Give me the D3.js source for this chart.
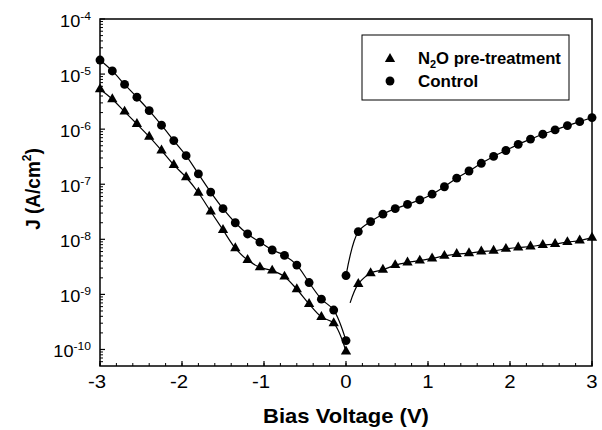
<!DOCTYPE html>
<html>
<head>
<meta charset="utf-8">
<script src="https://cdn.jsdelivr.net/npm/d3@7"></script>
<style>
body{margin:0;background:#fff;}
text{font-family:"Liberation Sans",Arial,sans-serif;fill:#000;}
</style>
</head>
<body>
<div id="chart"></div>
<script>
// bias voltage steps (V)
var negV=[-3,-2.85,-2.7,-2.55,-2.4,-2.25,-2.1,-1.95,-1.8,-1.65,-1.5,-1.35,-1.2,-1.05,-0.9,-0.75,-0.6,-0.45,-0.3,-0.15,0]
var posV=[0,0.15,0.3,0.45,0.6,0.75,0.9,1.05,1.2,1.35,1.5,1.65,1.8,1.95,2.1,2.25,2.4,2.55,2.7,2.85,3]

// Control (circles), J in A/cm2
var controlNeg=[1.8e-5,1.14e-5,6.5e-6,3.8e-6,2.17e-6,1.18e-6,6.2e-7,3.3e-7,1.54e-7,7.2e-8,3.6e-8,2.0e-8,1.25e-8,8.9e-9,6.4e-9,5.1e-9,3.4e-9,1.64e-9,8.2e-10,5.2e-10,1.45e-10]
var controlPos=[2.2e-9,1.38e-8,2.1e-8,2.86e-8,3.6e-8,4.3e-8,5.2e-8,6.6e-8,9.0e-8,1.29e-7,1.74e-7,2.4e-7,3.2e-7,4.1e-7,5.3e-7,6.6e-7,8.1e-7,9.7e-7,1.16e-6,1.37e-6,1.62e-6]

// N2O pre-treatment (triangles)
var n2oNeg=[5.3e-6,3.5e-6,2.08e-6,1.24e-6,7.3e-7,4.1e-7,2.24e-7,1.34e-7,7.0e-8,3.2e-8,1.48e-8,6.9e-9,4.2e-9,3.1e-9,2.7e-9,2.1e-9,1.24e-9,6.7e-10,3.9e-10,3.0e-10,9.2e-11]
// first positive value has no marker, the line only starts there
var n2oPosV=[0.05,0.15,0.3,0.45,0.6,0.75,0.9,1.05,1.2,1.35,1.5,1.65,1.8,1.95,2.1,2.25,2.4,2.55,2.7,2.85,3]
var n2oPos=[7e-10,1.55e-9,2.43e-9,2.8e-9,3.4e-9,3.8e-9,4.1e-9,4.5e-9,5.0e-9,5.4e-9,5.6e-9,6.0e-9,6.2e-9,6.7e-9,7.1e-9,7.4e-9,7.9e-9,8.2e-9,8.9e-9,9.5e-9,1.07e-8]

var xTicks=[-3,-2,-1,0,1,2,3]
var yExps=[-4,-5,-6,-7,-8,-9,-10]
var legendLabels=["pre-treatment","Control"]

var svgWidth=602
var svgHeight=430
var plot={left:100,top:19,right:592,bottom:366}
var stretch=1.1 // the scan is a bit wider than tall

var svg=d3.select("#chart")
    .append("svg")
    .attr("width",svgWidth)
    .attr("height",svgHeight)

var x=d3.scaleLinear()
    .domain([-3,3])
    .range([plot.left,plot.right])
var y=d3.scaleLog()
    .domain([Math.pow(10,-10.3),1e-4])
    .range([plot.bottom,plot.top])

// text placed at (px,py), widened a little
function wideText(px,py,k){
    return svg.append("g")
        .attr("transform",`translate(${px},${py}) scale(${k||stretch},1)`)
        .append("text")
}

// minor ticks on y (inside)
var yMinor=[]
for(var e=-11;e<-4;e++){
    for(var m=2;m<10;m++){
        var v=m*Math.pow(10,e)
        if(v>=y.domain()[0]&&v<=1e-4) yMinor.push(v)
    }
}
svg.selectAll(".yminor")
    .data(yMinor)
    .enter()
    .append("line")
    .attr("x1",plot.left).attr("x2",plot.left+3)
    .attr("y1",d=>y(d)).attr("y2",d=>y(d))
    .attr("stroke","#000").attr("stroke-width",1)
svg.selectAll(".ymajor")
    .data(yExps)
    .enter()
    .append("line")
    .attr("x1",plot.left).attr("x2",plot.left+5)
    .attr("y1",d=>y(Math.pow(10,d))).attr("y2",d=>y(Math.pow(10,d)))
    .attr("stroke","#000").attr("stroke-width",1.2)

yExps.forEach(d=>{
    var t=wideText(91,y(Math.pow(10,d))+8)
        .attr("text-anchor","end")
        .style("font-size","16.5px")
    t.append("tspan").text("10")
    t.append("tspan")
        .attr("dy",-7.5)
        .style("font-size","11px")
        .text(String(d))
})

// x ticks
var xMinor=d3.range(-3,3.001,0.2)
svg.selectAll(".xminor")
    .data(xMinor)
    .enter()
    .append("line")
    .attr("x1",d=>x(d)).attr("x2",d=>x(d))
    .attr("y1",plot.bottom).attr("y2",plot.bottom-3)
    .attr("stroke","#000").attr("stroke-width",1)
svg.selectAll(".xmajor")
    .data(xTicks)
    .enter()
    .append("line")
    .attr("x1",d=>x(d)).attr("x2",d=>x(d))
    .attr("y1",plot.bottom).attr("y2",plot.bottom-5)
    .attr("stroke","#000").attr("stroke-width",1.2)
xTicks.forEach(d=>{
    wideText(x(d)-(d<0?3:0),388)
        .attr("text-anchor","middle")
        .style("font-size","18.5px")
        .text(String(d))
})

// frame
svg.append("rect")
    .attr("x",plot.left).attr("y",plot.top)
    .attr("width",plot.right-plot.left)
    .attr("height",plot.bottom-plot.top)
    .attr("fill","none")
    .attr("stroke","#000")
    .attr("stroke-width",1.5)

// axis titles
wideText(346,423)
    .attr("text-anchor","middle")
    .style("font-size","20px")
    .style("font-weight","bold")
    .text("Bias Voltage (V)")
var yt=svg.append("text")
    .attr("transform","translate(40,189) rotate(-90) scale(1,1.1)")
    .attr("text-anchor","middle")
    .style("font-size","19px")
    .style("font-weight","bold")
yt.append("tspan").text("J (A/cm")
yt.append("tspan").attr("dy",-8).style("font-size","12px").text("2")
yt.append("tspan").attr("dy",8).text(")")

// series
function pairs(vs,js){return vs.map((v,i)=>({v:v,j:js[i]}))}
var line=d3.line()
    .x(d=>x(d.v))
    .y(d=>y(d.j))
    .curve(d3.curveCatmullRom)

var series=[
    {pts:pairs(negV,controlNeg),sym:"c",skip:0},
    {pts:pairs(posV,controlPos),sym:"c",skip:0},
    {pts:pairs(negV,n2oNeg),sym:"t",skip:0},
    {pts:pairs(n2oPosV,n2oPos),sym:"t",skip:1}
]
var circle=d3.symbol().type(d3.symbolCircle).size(62)
var tri=d3.symbol().type(d3.symbolTriangle).size(46)

series.forEach(s=>{
    svg.append("path")
        .attr("d",line(s.pts))
        .attr("fill","none")
        .attr("stroke","#000")
        .attr("stroke-width",1.2)
    svg.selectAll(null)
        .data(s.pts.slice(s.skip))
        .enter()
        .append("path")
        .attr("transform",d=>`translate(${x(d.v)},${y(d.j)})`)
        .attr("d",s.sym=="c"?circle():tri())
        .attr("fill","#000")
})

// legend
svg.append("rect")
    .attr("x",362).attr("y",35)
    .attr("width",207).attr("height",65)
    .attr("fill","#fff")
    .attr("stroke","#000")
    .attr("stroke-width",1)
svg.append("path")
    .attr("transform","translate(390,59)")
    .attr("d",tri())
svg.append("path")
    .attr("transform","translate(390,81)")
    .attr("d",circle())
var l1=wideText(418,64,1.04)
    .style("font-size","16px")
    .style("font-weight","bold")
l1.append("tspan").text("N")
l1.append("tspan").attr("dy",4).style("font-size","10.5px").text("2")
l1.append("tspan").attr("dy",-4).text("O "+legendLabels[0])
wideText(418,87,1.06)
    .style("font-size","16px")
    .style("font-weight","bold")
    .text(legendLabels[1])
</script>
</body>
</html>
